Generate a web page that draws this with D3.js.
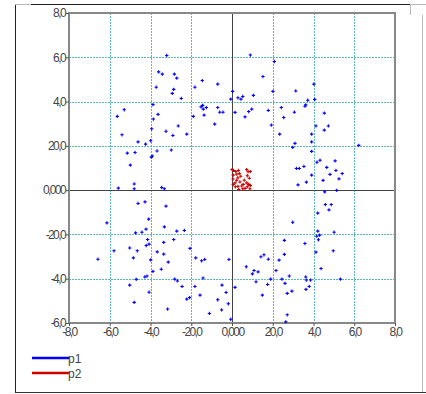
<!DOCTYPE html>
<html>
<head>
<meta charset="utf-8">
<script src="https://cdn.jsdelivr.net/npm/d3@7"></script>
<style>
  body { margin: 0; background: #fff; }
  text { font-family: "Liberation Sans", Arial, sans-serif; }
</style>
</head>
<body>
<svg id="chart" width="426" height="394"></svg>
<script>
// series p1 (ring) [x, y]
const p1 = [
  [-32.0, 60.8], [-36.0, 53.4], [-34.2, 52.4], [-28.3, 52.4], [-27.1, 50.6], [-37.2, 46.5],
  [-28.6, 45.5], [-29.3, 43.7], [-24.9, 41.4], [-14.6, 49.5], [-18.2, 46.5], [-7.0, 47.9],
  [-38.8, 38.6], [-36.3, 34.2], [-38.6, 32.1], [-39.4, 27.7], [-32.4, 26.6], [-26.4, 29.0],
  [-29.0, 24.7], [-22.2, 25.3], [-19.0, 33.3], [-15.2, 37.6], [-14.4, 38.3], [-14.1, 36.6],
  [-12.6, 37.3], [-13.7, 33.9], [-7.0, 37.3], [-6.0, 35.2], [-8.5, 29.8], [-56.3, 33.3],
  [-52.9, 36.3], [-54.0, 25.0], [-46.1, 21.8], [-42.4, 20.8], [-39.9, 22.3], [-51.4, 16.7],
  [-47.6, 17.0], [-49.9, 11.3], [-39.6, 14.9], [-39.1, 15.4], [-36.8, 17.7], [-29.8, 18.1],
  [-55.8, 0.9], [-48.0, 2.8], [-48.0, 0.6], [-34.5, 1.2], [-33.2, 0.6],
  [9.0, 61.0], [20.8, 58.1], [15.2, 51.3], [0.3, 44.6], [20.1, 44.6], [31.3, 44.8],
  [40.2, 47.9], [-0.6, 41.1], [2.9, 41.7], [4.4, 41.1], [5.3, 42.3], [10.5, 42.8],
  [37.2, 40.6], [40.6, 41.0], [36.2, 38.5], [35.8, 37.9], [-4.4, 35.2], [1.5, 35.1],
  [6.4, 33.1], [8.2, 35.5], [9.7, 36.6], [17.8, 36.0], [24.2, 37.3], [25.4, 32.8],
  [30.6, 35.2], [45.3, 34.8], [19.3, 29.4], [41.2, 29.0], [47.3, 29.0], [45.3, 27.1],
  [23.4, 25.3], [39.1, 25.3], [39.1, 21.8], [30.9, 21.1], [29.8, 19.3], [62.2, 20.2],
  [39.1, 17.5], [41.7, 12.6], [43.2, 13.5], [50.6, 13.2], [46.5, 10.3], [31.6, 9.8],
  [33.0, 9.8], [35.3, 10.7], [51.0, 8.9], [54.1, 7.5], [48.1, 7.1], [39.1, 6.8],
  [52.5, 5.1], [44.7, 4.4], [36.5, 3.6], [32.4, 2.4], [45.5, -0.8], [51.4, -0.1],
  [-46.1, -6.0], [-42.7, -5.3], [-32.4, -7.2], [-61.4, -14.8], [-40.9, -13.1], [-33.2, -16.6],
  [-47.3, -19.3], [-44.2, -19.0], [-42.2, -17.6], [-27.1, -18.5], [-23.4, -18.2], [-41.4, -22.3],
  [-28.6, -22.3], [-33.5, -23.6], [-42.1, -25.0], [-40.7, -24.4], [-50.2, -26.1], [-46.5, -27.4],
  [-57.9, -27.4], [-36.7, -27.9], [-33.5, -28.9], [-20.6, -26.3], [-48.4, -30.6], [-65.8, -31.2],
  [-39.9, -31.5], [-31.3, -32.5], [-17.8, -30.6], [-14.9, -31.9], [-13.4, -31.3], [-38.8, -36.7],
  [-34.7, -35.7], [-42.8, -39.2], [-41.7, -38.8], [-47.0, -40.3], [-28.1, -40.2], [-26.8, -41.0],
  [-14.2, -39.7], [-50.2, -42.9], [-24.5, -43.5], [-18.2, -43.5], [-40.7, -46.1], [-15.7, -47.4],
  [-22.2, -49.2], [-20.8, -48.5], [-7.0, -49.5], [-48.0, -50.7], [-31.6, -53.7], [-11.1, -55.7],
  [45.8, -6.5], [48.7, -6.5], [47.6, -8.9], [42.1, -10.4], [29.8, -14.5], [42.1, -18.5],
  [50.1, -19.0], [41.6, -20.8], [43.0, -20.3], [42.4, -22.4], [25.7, -22.7], [35.8, -24.1],
  [49.7, -27.4], [41.2, -28.0], [-1.5, -31.3], [14.2, -30.1], [15.7, -29.2], [17.8, -31.2],
  [25.7, -29.0], [23.1, -31.6], [7.0, -34.6], [10.8, -36.3], [12.8, -36.9], [10.0, -37.8],
  [21.6, -36.3], [43.7, -35.4], [19.0, -40.2], [11.8, -41.4], [24.5, -40.2], [28.1, -38.8],
  [36.2, -39.2], [36.5, -40.6], [38.6, -40.6], [53.2, -40.2], [17.5, -42.6], [26.0, -42.1],
  [37.9, -43.5], [36.3, -44.8], [1.5, -43.9], [-4.9, -42.9], [-2.9, -46.2], [14.9, -47.4],
  [27.1, -46.6], [29.4, -45.6], [-1.8, -51.3], [-5.1, -54.1], [-0.6, -58.3], [27.1, -56.3],
  [26.4, -59.5]
];

// series p2 (cluster near origin) [x, y]
const p2 = [
  [0.0, 9.3], [0.8, 8.9], [1.8, 8.4], [3.1, 8.9], [3.6, 7.5], [4.3, 6.3], [2.9, 5.6],
  [2.3, 4.5], [3.9, 3.7], [1.5, 3.3], [0.6, 2.6], [2.9, 1.7], [4.8, 1.9], [3.3, 0.3],
  [5.5, 2.6], [7.2, 9.3], [7.9, 8.3], [9.0, 8.4], [7.5, 6.5], [8.5, 5.4], [6.0, 4.5],
  [7.2, 3.3], [8.2, 2.6], [9.0, 2.1], [7.5, 1.5], [8.8, 0.6], [6.4, 0.8], [5.3, 0.6],
  [1.6, 1.5], [0.5, 5.0], [0.6, 6.8], [2.3, 7.2]
];

const xTicks = [-80, -60, -40, -20, 0, 20, 40, 60, 80];
const xTickLabels = ['-8,0', '-6,0', '-4,0', '-20,0', '0,000', '20,0', '4,0', '6,0', '8,0'];
const yTicks = [-60, -40, -20, 0, 20, 40, 60, 80];
const yTickLabels = ['-6,0', '-4,0', '-20,0', '0,000', '20,0', '4,0', '6,0', '8,0'];

const seriesNames = ['p1', 'p2'];
const seriesColors = ['#0000ff', '#cc0000'];

const svg = d3.select('#chart');

const plot = {left: 69, right: 395, top: 13, bottom: 323};

const x = d3.scaleLinear().domain([-80, 80]).range([plot.left, plot.right]);
const y = d3.scaleLinear().domain([-60, 80]).range([plot.bottom, plot.top]);

// outer frame
svg.append('line').attr('x1', 15.5).attr('x2', 15.5).attr('y1', 4.5).attr('y2', 393)
  .attr('stroke', '#222');
svg.append('line').attr('x1', 15).attr('x2', 426).attr('y1', 392.5).attr('y2', 392.5)
  .attr('stroke', '#333');
svg.append('line').attr('x1', 15).attr('x2', 31).attr('y1', 4.5).attr('y2', 4.5)
  .attr('stroke', '#bbb');
svg.append('line').attr('x1', 31).attr('x2', 410).attr('y1', 4.5).attr('y2', 4.5)
  .attr('stroke', '#222');
svg.append('line').attr('x1', 410).attr('x2', 426).attr('y1', 4.5).attr('y2', 4.5)
  .attr('stroke', '#bbb');
svg.append('line').attr('x1', 410.5).attr('x2', 410.5).attr('y1', 5).attr('y2', 15)
  .attr('stroke', '#bbb');
svg.append('line').attr('x1', 422.5).attr('x2', 422.5).attr('y1', 15).attr('y2', 392)
  .attr('stroke', '#bbb');

// grid
const grid = svg.append('g').attr('stroke', '#5ab8b8').attr('stroke-dasharray', '2,1');
grid.selectAll('.gx')
  .data(xTicks.filter(d => d !== 0 && d !== -80 && d !== 80))
  .enter().append('line')
  .attr('x1', d => Math.round(x(d)) + 0.5).attr('x2', d => Math.round(x(d)) + 0.5)
  .attr('y1', plot.top).attr('y2', plot.bottom);
grid.selectAll('.gy')
  .data(yTicks.filter(d => d !== 0 && d !== -60 && d !== 80))
  .enter().append('line')
  .attr('y1', d => Math.round(y(d)) + 0.5).attr('y2', d => Math.round(y(d)) + 0.5)
  .attr('x1', plot.left).attr('x2', plot.right);

// zero lines
svg.append('line')
  .attr('x1', Math.round(x(0)) + 0.5).attr('x2', Math.round(x(0)) + 0.5)
  .attr('y1', plot.top).attr('y2', plot.bottom).attr('stroke', '#444');
svg.append('line')
  .attr('y1', Math.round(y(0)) + 0.5).attr('y2', Math.round(y(0)) + 0.5)
  .attr('x1', plot.left).attr('x2', plot.right).attr('stroke', '#444');

// plot border
svg.append('rect')
  .attr('x', plot.left).attr('y', plot.top)
  .attr('width', plot.right - plot.left).attr('height', plot.bottom - plot.top)
  .attr('fill', 'none').attr('stroke', '#888').attr('stroke-width', 2);

// axes
const xAxis = d3.axisBottom(x).tickValues(xTicks)
  .tickFormat((d, i) => xTickLabels[i]).tickSize(3).tickPadding(1);
const yAxis = d3.axisLeft(y).tickValues(yTicks)
  .tickFormat((d, i) => yTickLabels[i]).tickSize(3).tickPadding(1);

const gx = svg.append('g').attr('transform', `translate(0,${plot.bottom})`).call(xAxis);
const gy = svg.append('g').attr('transform', `translate(${plot.left},0)`).call(yAxis);
[gx, gy].forEach(g => {
  g.select('.domain').remove();
  g.selectAll('line').attr('stroke', '#555');
  g.selectAll('text')
    .attr('fill', '#444')
    .style('font-size', '12px')
    .style('letter-spacing', '-1.6px');
});

// points
const cross = d3.symbol(d3.symbolCross, 6);
[p1, p2].forEach((s, k) => {
  svg.append('g').selectAll('path')
    .data(s)
    .enter().append('path')
    .attr('d', cross)
    .attr('transform', d => `translate(${x(d[0])},${y(d[1])})`)
    .attr('fill', seriesColors[k]);
});

// legend
const legend = svg.append('g');
seriesNames.forEach((name, i) => {
  const ly = 358 + i * 15;
  legend.append('line')
    .attr('x1', 32).attr('x2', 69).attr('y1', ly).attr('y2', ly)
    .attr('stroke', seriesColors[i]).attr('stroke-width', 2.5);
  legend.append('text')
    .attr('x', 68).attr('y', ly + 5)
    .style('font-size', '12px')
    .attr('fill', '#444')
    .text(name);
});
</script>
</body>
</html>
